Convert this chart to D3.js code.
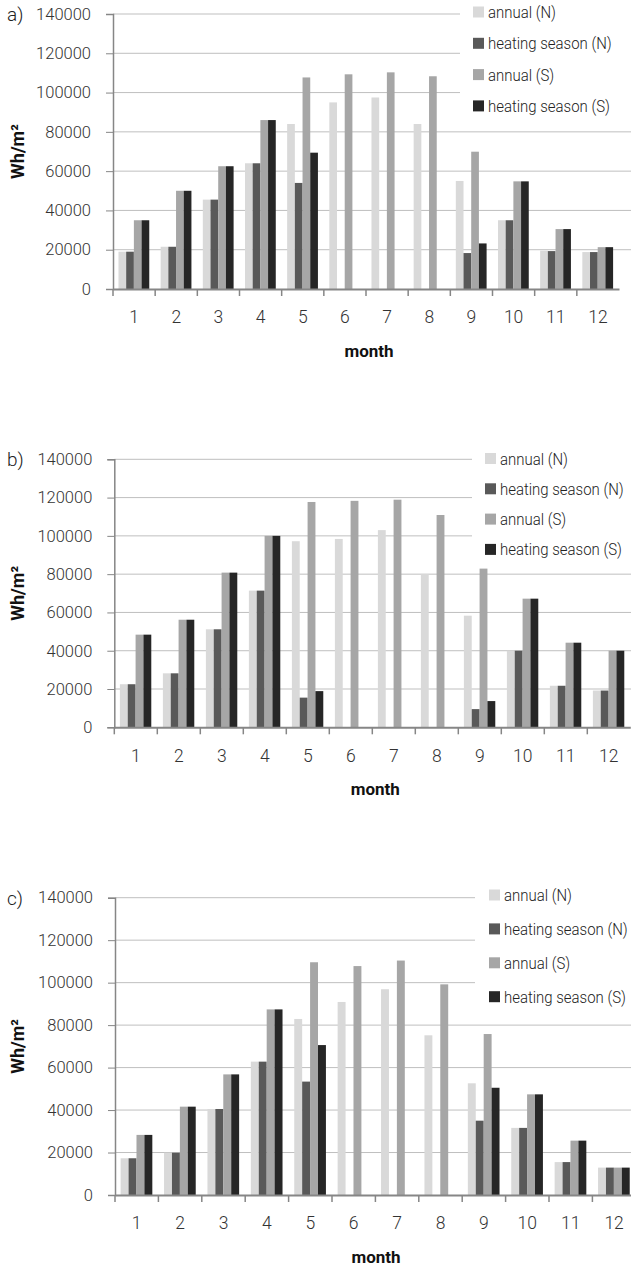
<!DOCTYPE html>
<html>
<head>
<meta charset="utf-8">
<script src="https://cdn.jsdelivr.net/npm/d3@7"></script>
<style>
    body { margin: 0; background: #fff; }
    text { font-family: Roboto, "Noto Sans", sans-serif; }
</style>
</head>
<body>
<div id="my_dataviz"></div>
<script>
// données
const months = ["1", "2", "3", "4", "5", "6", "7", "8", "9", "10", "11", "12"];
const seriesNames = ["annual (N)", "heating season (N)", "annual (S)", "heating season (S)"];
const seriesColors = ["#d9d9d9", "#595959", "#a6a6a6", "#262626"];
const yTicks = [0, 20000, 40000, 60000, 80000, 100000, 120000, 140000];

// panneau a)
const annualN_a = [19000, 21500, 45500, 64000, 84000, 95000, 97500, 84000, 55000, 35000, 19500, 18800];
const heatingN_a = [19000, 21500, 45500, 64000, 54000, 0, 0, 0, 18300, 35000, 19300, 18800];
const annualS_a = [35000, 50000, 62500, 86000, 107700, 109300, 110300, 108300, 69900, 54800, 30500, 21300];
const heatingS_a = [35000, 50000, 62500, 86000, 69400, 0, 0, 0, 23200, 54800, 30500, 21300];

// panneau b)
const annualN_b = [22500, 28200, 51200, 71400, 97200, 98400, 103000, 80000, 58300, 40000, 21700, 19200];
const heatingN_b = [22500, 28200, 51200, 71400, 15500, 0, 0, 0, 9500, 40000, 21700, 19200];
const annualS_b = [48400, 56200, 80800, 100000, 117700, 118300, 118900, 110900, 82900, 67200, 44200, 40000];
const heatingS_b = [48400, 56200, 80800, 100000, 18900, 0, 0, 0, 13700, 67200, 44200, 40000];

// panneau c)
const annualN_c = [17300, 19900, 40500, 62800, 82900, 90900, 96900, 75200, 52600, 31600, 15500, 12900];
const heatingN_c = [17300, 19900, 40500, 62800, 53400, 0, 0, 0, 35000, 31600, 15500, 12900];
const annualS_c = [28300, 41600, 56800, 87400, 109600, 107800, 110400, 99200, 75800, 47400, 25600, 12900];
const heatingS_c = [28300, 41600, 56800, 87400, 70600, 0, 0, 0, 50500, 47400, 25600, 12900];

// mise en page des trois graphes
const panels = [
    { label: "a)", series: [annualN_a, heatingN_a, annualS_a, heatingS_a],
      x0: 113, x1: 619, yTop: 14, yZero: 289,
      legend: { x: 460, y: 0, h: 120, sw: 473, first: 12, step: 31.3 } },
    { label: "b)", series: [annualN_b, heatingN_b, annualS_b, heatingS_b],
      x0: 114.3, x1: 630.3, yTop: 459.3, yZero: 727.3,
      legend: { x: 472, y: 444, h: 122, sw: 485, first: 458.5, step: 30.3 } },
    { label: "c)", series: [annualN_c, heatingN_c, annualS_c, heatingS_c],
      x0: 115, x1: 635.8, yTop: 897.7, yZero: 1195,
      legend: { x: 475, y: 878, h: 133, sw: 489, first: 895, step: 33.9 } }
];

const width = 631;
const height = 1267;

const svg = d3.select("#my_dataviz")
    .append("svg")
    .attr("width", width)
    .attr("height", height);

panels.forEach(function (p) {
    const g = svg.append("g");

    // échelles
    const x = d3.scaleBand().domain(months).range([p.x0, p.x1]).padding(0);
    const xInner = d3.scaleBand()
        .domain(d3.range(seriesNames.length))
        .range([x.bandwidth() * 0.13, x.bandwidth() * 0.86])
        .padding(0);
    const y = d3.scaleLinear().domain([0, 140000]).range([p.yZero, p.yTop]);

    // lignes de grille
    g.selectAll(".grid")
        .data(yTicks.slice(1))
        .join("line")
        .attr("x1", p.x0)
        .attr("x2", width)
        .attr("y1", d => y(d))
        .attr("y2", d => y(d))
        .attr("stroke", "#bfbfbf")
        .attr("stroke-width", 1);

    // axe y
    const yAxis = d3.axisLeft(y).tickValues(yTicks).tickSize(7).tickPadding(15).tickFormat(d3.format("d"));
    const gy = g.append("g").attr("transform", "translate(" + p.x0 + ",0)").call(yAxis);
    gy.select(".domain").attr("stroke", "#868686").attr("stroke-width", 1.5);
    gy.selectAll(".tick line").attr("stroke", "#868686");
    gy.selectAll(".tick text")
        .attr("font-size", 16.5)
        .attr("font-weight", 300)
        .attr("fill", "#333");

    // barres
    p.series.forEach(function (vals, i) {
        g.selectAll(".bar" + i)
            .data(vals.map((v, j) => ({ m: months[j], v: v })))
            .join("rect")
            .attr("x", d => x(d.m) + xInner(i))
            .attr("width", xInner.bandwidth())
            .attr("y", d => y(d.v))
            .attr("height", d => y(0) - y(d.v))
            .attr("fill", seriesColors[i]);
    });

    // axe x
    const xAxis = d3.axisBottom(x).tickSize(0).tickPadding(22);
    const gx = g.append("g").attr("transform", "translate(0," + p.yZero + ")").call(xAxis);
    gx.select(".domain").attr("stroke", "#868686").attr("stroke-width", 2);
    gx.selectAll(".tick text")
        .attr("font-size", 17.5)
        .attr("font-weight", 300)
        .attr("fill", "#333");
    // petites graduations entre les mois
    gx.selectAll(".sep")
        .data(months)
        .join("line")
        .attr("x1", d => x(d))
        .attr("x2", d => x(d))
        .attr("y1", 0)
        .attr("y2", 7)
        .attr("stroke", "#868686")
        .attr("stroke-width", 1.5);

    // titres des axes
    g.append("text")
        .attr("transform", "translate(24," + (p.yTop + p.yZero) / 2 + ") rotate(-90)")
        .attr("text-anchor", "middle")
        .attr("font-size", 18)
        .attr("font-weight", 700)
        .attr("fill", "#111")
        .text("Wh/m²");

    g.append("text")
        .attr("x", (p.x0 + Math.min(p.x1, width)) / 2 + 3)
        .attr("y", p.yZero + 68)
        .attr("text-anchor", "middle")
        .attr("font-size", 17)
        .attr("font-weight", 700)
        .attr("fill", "#111")
        .text("month");

    // étiquette du panneau
    g.append("text")
        .attr("x", 7)
        .attr("y", p.yTop + 7)
        .attr("font-size", 19)
        .attr("font-weight", 300)
        .attr("fill", "#222")
        .text(p.label);

    // légende
    const lg = p.legend;
    g.append("rect")
        .attr("x", lg.x)
        .attr("y", lg.y)
        .attr("width", width - lg.x)
        .attr("height", lg.h)
        .attr("fill", "#fff");

    const item = g.selectAll(".legend")
        .data(seriesNames)
        .join("g")
        .attr("transform", (d, i) => "translate(" + lg.sw + "," + (lg.first + i * lg.step) + ")");
    item.append("rect")
        .attr("x", 0)
        .attr("y", -5.5)
        .attr("width", 11)
        .attr("height", 11)
        .attr("fill", (d, i) => seriesColors[i]);
    // texte un peu condensé comme dans la figure
    item.append("text")
        .attr("transform", "translate(15,6) scale(0.88,1)")
        .attr("font-size", 17)
        .attr("font-weight", 300)
        .attr("fill", "#222")
        .text(d => d);
});
</script>
</body>
</html>
